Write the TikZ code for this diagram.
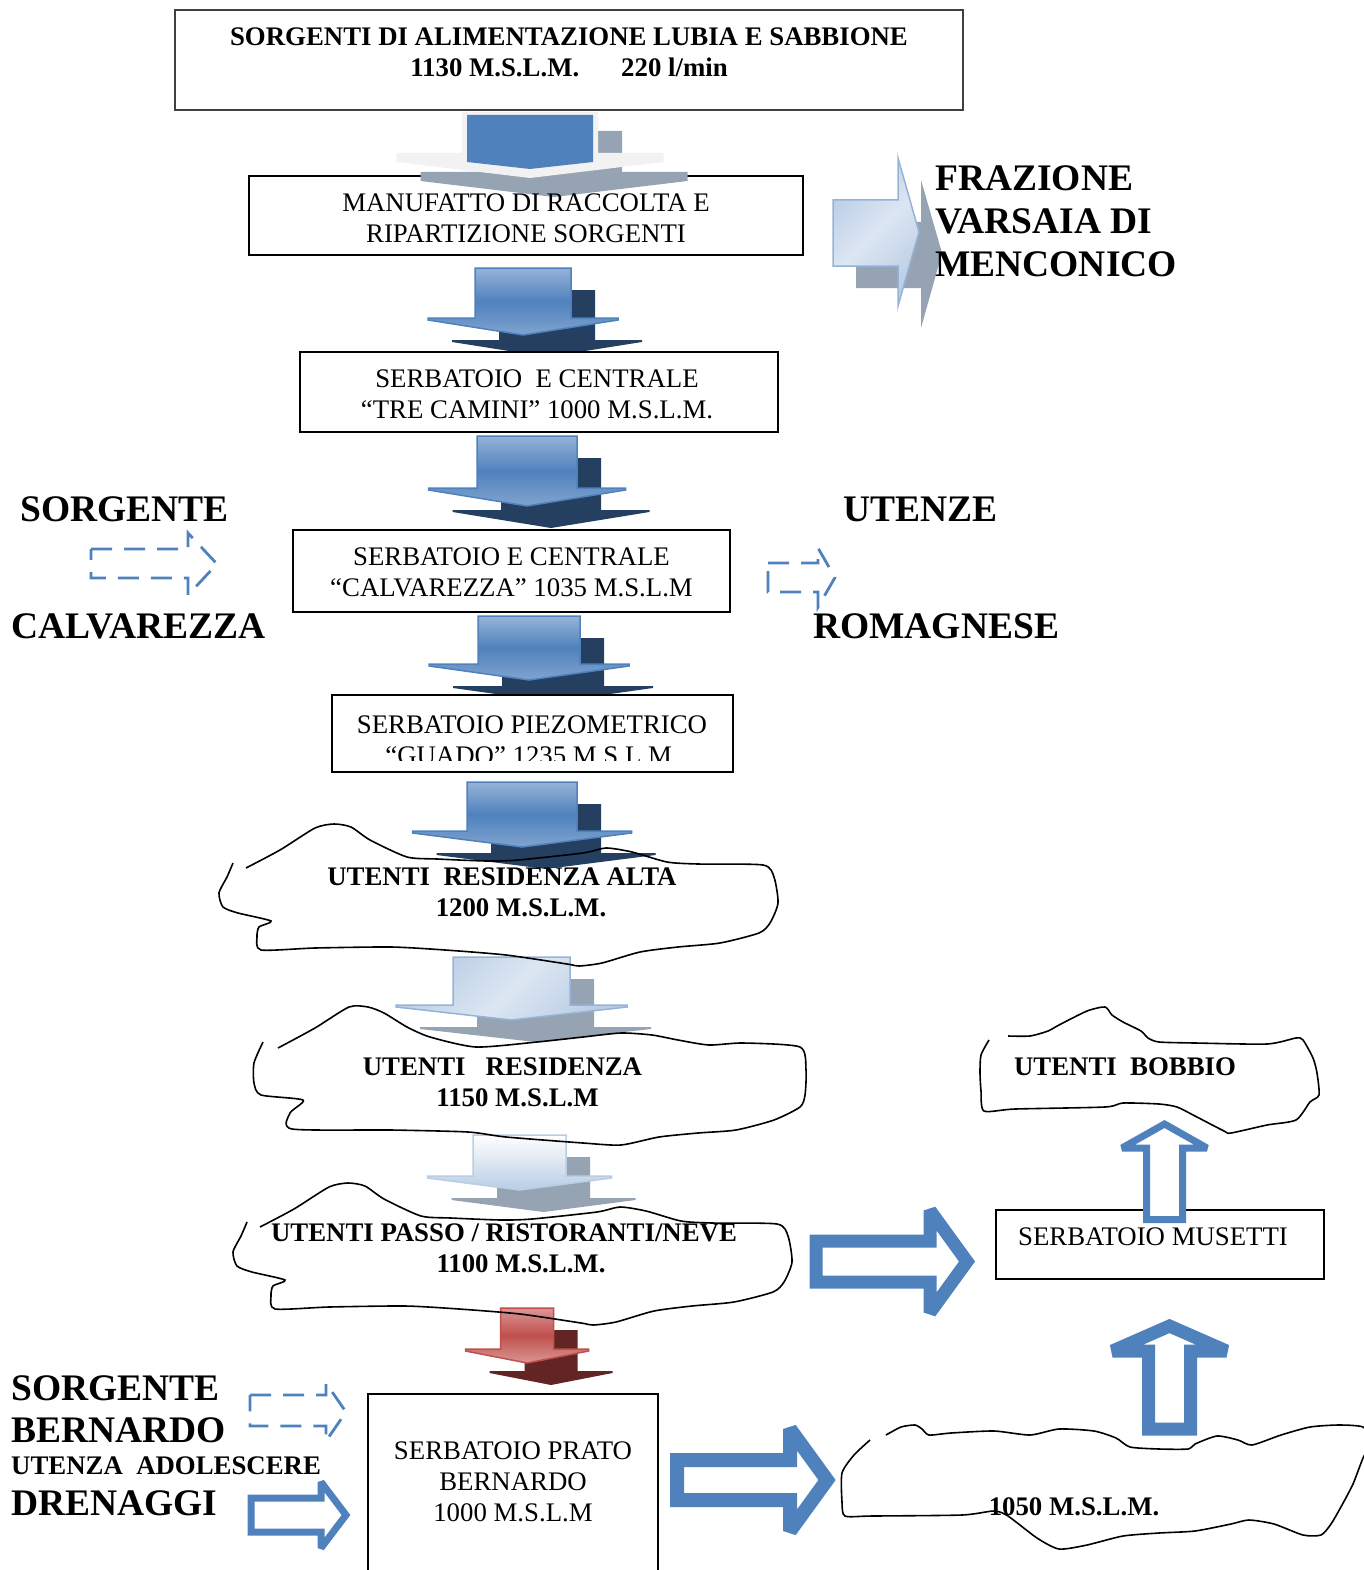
\documentclass[tikz,border=0pt]{standalone}
\usepackage{fontspec}
\setmainfont{Liberation Serif}
\usepackage{tikz}

\definecolor{azul}{HTML}{4F81BD}
\definecolor{azulclaro}{HTML}{95B3D7}
\definecolor{azulpalido}{HTML}{B9CDE5}
\definecolor{azulgelo}{HTML}{DCE6F2}
\definecolor{marinho}{HTML}{243F60}
\definecolor{cinza}{HTML}{95A3B3}
\definecolor{gelo}{HTML}{F2F2F2}
\definecolor{vermelho}{HTML}{C0504D}
\definecolor{rosa}{HTML}{DA9694}
\definecolor{vinho}{HTML}{632523}

\newcommand{\corpo}{\fontsize{26.8}{31}\selectfont}
\newcommand{\grande}{\fontsize{37.5}{43}\selectfont}

% seta em bloco: estilo, centro, topo, meia haste, meia ponta, haste, aba, ponta
\newcommand{\seta}[8]{%
  \path[#1] ({#2-#4},{#3}) -- ({#2+#4},{#3}) -- ({#2+#4},{#3+#6}) -- ({#2+#5},{#3+#6})
    -- ({#2+#5},{#3+#6+#7}) -- ({#2},{#3+#6+#7+#8}) -- ({#2-#5},{#3+#6+#7})
    -- ({#2-#5},{#3+#6}) -- ({#2-#4},{#3+#6}) -- cycle;}
% seta com sombra
\newcommand{\setasombra}[8]{%
  \seta{#2}{#3+24}{#4+22}{#5}{#6}{#7}{2}{#8}%
  \seta{#1}{#3}{#4}{#5}{#6}{#7}{2}{#8}}

\begin{document}
\begin{tikzpicture}[x=1pt, y=-1pt,
    caixa/.style={draw, fill=white, line width=1.2pt, inner sep=0pt},
    caixagrossa/.style={caixa, line width=2.2pt},
    texto/.style={font=\corpo, align=center, inner sep=0pt},
    negrito/.style={font=\corpo\bfseries, align=center, inner sep=0pt},
    rotulo/.style={font=\grande\bfseries, align=left, inner sep=0pt, anchor=west},
    nuvem/.style={draw=black, line width=1.6pt},
    vazada/.style={draw=azul, fill=white, line width=13pt, miter limit=3},
    tracejada/.style={draw=azul, line width=2.8pt, dash pattern=on 21pt off 12pt},
    frente/.style={top color=azulclaro, bottom color=azulclaro!70!azul, middle color=azul, draw=azul, line width=1.5pt},
    frenteclara/.style={left color=azulpalido, right color=azulpalido, middle color=azulgelo, shading angle=45, draw=azulclaro, line width=1.5pt},
    frentebranca/.style={top color=white, bottom color=azulpalido, draw=azulpalido, line width=1.5pt},
    frentevermelha/.style={top color=rosa, bottom color=rosa, middle color=vermelho, draw=vermelho, line width=1.5pt},
    sombraescura/.style={fill=marinho},
    sombracinza/.style={fill=cinza},
    sombravinho/.style={fill=vinho},
    realce/.style={fill=gelo},
    nuvemalta/.pic={\draw[nuvem] plot[smooth, tension=0.4] coordinates {(246,868) (280,850) (315,828) (334,824) (351,827) (370,840) (407,857) (437,859) (487,861) (518,860) (583,853) (606,848) (632,852) (667,862) (698,864) (763,865) (774,877) (778,903) (770,923) (759,933) (720,943) (678,947) (640,952) (602,963) (579,966) (567,964) (506,955) (445,950) (391,947) (315,948) (261,950) (257,937) (259,927) (271,921) (238,913) (223,907) (219,893) (227,877) (233,863)};}]
    \useasboundingbox (0,0) rectangle (1363,1570);

    % Caixas
    \node[caixa, draw=black!75, minimum width=788pt, minimum height=100pt] (fontes) at (569,60) {};
    \node[caixa, minimum width=554pt, minimum height=79pt] (manufatto) at (526,215.5) {};

    % Setas
    \seta{sombracinza}{554}{131}{68}{133.5}{41}{9}{16}
    \seta{realce}{530}{112}{68}{133.5}{41}{9}{16}
    \path[fill=azul] (467,115) -- (593,115) -- (593,162) -- (530,169) -- (467,162) -- cycle;
    \setasombra{frente}{sombraescura}{523}{268}{48}{95}{50}{15}
    \setasombra{frente}{sombraescura}{527}{436}{50}{98.5}{52}{16}
    \setasombra{frente}{sombraescura}{529}{616}{51}{100}{48}{14}

    \node[caixa, minimum width=478pt, minimum height=80pt] (trecamini) at (539,392) {};
    \node[caixagrossa, minimum width=437pt, minimum height=82pt] (calvarezza) at (511.5,571) {};
    \node[caixagrossa, minimum width=401pt, minimum height=77pt] (guado) at (532.5,733.5) {};

    \setasombra{frente}{sombraescura}{522}{782}{55}{109.5}{49}{14}
    \setasombra{frenteclara}{sombracinza}{511.5}{957}{58.5}{115.5}{48}{13}
    \setasombra{frentebranca}{sombracinza}{519.5}{1135}{46.5}{92}{41}{12}
    \setasombra{frentevermelha}{sombravinho}{527}{1308}{26.5}{61.5}{41}{12}

    \path[sombracinza] (856,222) -- (921,222) -- (921,180) -- (942,253) -- (921,328) -- (921,288) -- (856,288) -- cycle;
    \path[frenteclara] (833,200) -- (898,200) -- (898,158) -- (919,232) -- (898,306) -- (898,266) -- (833,266) -- cycle;

    % Nuvens
    \pic (alta) at (0,0) {nuvemalta};
    \pic (passo) at (14,359) {nuvemalta};
    \draw[nuvem] plot[smooth, tension=0.4] coordinates {(278,1048) (315,1028) (349,1007) (368,1007) (384,1013) (407,1027) (430,1037) (476,1047) (537,1042) (583,1037) (621,1033) (652,1035) (678,1040) (709,1045) (743,1043) (800,1047) (806,1070) (805,1095) (800,1107) (774,1120) (736,1130) (698,1133) (659,1137) (621,1145) (583,1143) (506,1137) (468,1132) (391,1130) (292,1129) (290,1113) (303,1100) (261,1095) (254,1083) (254,1063) (263,1042)};
    \draw[nuvem] plot[smooth, tension=0.4] coordinates {(1008,1036) (1030,1036) (1048,1031) (1059,1025) (1087,1011) (1105,1007) (1112,1015) (1123,1022) (1141,1031) (1148,1038) (1159,1042) (1195,1043) (1267,1044) (1296,1038) (1303,1040) (1313,1058) (1317,1073) (1319,1095) (1310,1102) (1296,1120) (1267,1125) (1231,1133) (1224,1131) (1195,1116) (1177,1107) (1159,1104) (1123,1103) (1105,1107) (1015,1109) (984,1111) (981,1091) (980,1073) (981,1055) (989,1040)};
    \draw[nuvem] plot[smooth, tension=0.4] coordinates {(886,1435) (901,1427) (915,1425) (922,1429) (929,1435) (951,1433) (994,1431) (1030,1435) (1059,1429) (1094,1431) (1116,1438) (1130,1447) (1159,1449) (1188,1449) (1195,1444) (1217,1436) (1238,1440) (1252,1445) (1281,1435) (1310,1427) (1339,1425) (1363,1427) (1372,1440) (1363,1458) (1353,1484) (1342,1505) (1331,1524) (1321,1535) (1303,1535) (1274,1524) (1249,1520) (1231,1524) (1195,1531) (1159,1533) (1123,1536) (1087,1545) (1059,1549) (1037,1538) (1008,1516) (994,1511) (962,1515) (872,1516) (845,1516) (842,1502) (842,1473) (854,1455) (870,1440)};

    \node[caixa, minimum width=328pt, minimum height=69pt] (musetti) at (1160,1244.5) {};
    \node[caixa, minimum width=290pt, minimum height=190pt] (prato) at (513,1489) {};

    \path[vazada] (816,1241) -- (930,1241) -- (930,1210.5) -- (967,1261.5) -- (930,1312.5) -- (930,1282) -- (816,1282) -- cycle;
    \path[vazada, line width=7pt] (1146.5,1219.5) -- (1146.5,1148) -- (1122,1148) -- (1164.5,1124) -- (1207,1148) -- (1182.5,1148) -- (1182.5,1219.5) -- cycle;
    \path[vazada] (1148.5,1429) -- (1148.5,1351) -- (1112.5,1351) -- (1169.5,1326) -- (1226.5,1351) -- (1190.5,1351) -- (1190.5,1429) -- cycle;
    \path[vazada, line width=14pt] (677,1460) -- (790,1460) -- (790,1429) -- (827,1480) -- (790,1531) -- (790,1500) -- (677,1500) -- cycle;
    \path[vazada, line width=7pt] (251,1498) -- (321,1498) -- (321,1482) -- (346,1515) -- (321,1548) -- (321,1532) -- (251,1532) -- cycle;

    \path[tracejada] (91,549) -- (188,549) -- (188,533) -- (217,564) -- (188,595) -- (188,578) -- (91,578) -- cycle;
    \path[tracejada] (768,563) -- (818,563) -- (818,548) -- (835,577.5) -- (818,607) -- (818,592) -- (768,592) -- cycle;
    \path[tracejada] (250,1395) -- (326,1395) -- (326,1383) -- (346,1412) -- (326,1441) -- (326,1426) -- (250,1426) -- cycle;

    % Textos
    \node[negrito] (fontestexto) at (569,52.5) {SORGENTI DI ALIMENTAZIONE LUBIA E SABBIONE\\1130 M.S.L.M.\hspace{42pt}220 l/min};
    \node[texto] (manufattotexto) at (526,218.5) {MANUFATTO DI RACCOLTA E\\RIPARTIZIONE SORGENTI};
    \node[texto] (trecaminitexto) at (537,394.5) {SERBATOIO\ \ E CENTRALE\\“TRE CAMINI” 1000 M.S.L.M.};
    \node[texto] (calvarezzatexto) at (511.5,572.5) {SERBATOIO E CENTRALE\\“CALVAREZZA” 1035 M.S.L.M};
    \begin{scope}
        \clip (guado.north west) rectangle ([yshift=13pt]guado.south east);
        \node[texto] (guadotexto) at (532,740) {SERBATOIO PIEZOMETRICO\\“GUADO” 1235 M.S.L.M.};
    \end{scope}
    \node[negrito] (altatexto) at (502,892.5) {UTENTI\ \ RESIDENZA ALTA\\\hspace*{38pt}1200 M.S.L.M.};
    \node[negrito] (residenzatexto) at (502.5,1082.5) {UTENTI\ \ \ RESIDENZA\\\hspace*{30pt}1150 M.S.L.M};
    \node[negrito] (passotexto) at (504,1248.5) {UTENTI PASSO / RISTORANTI/NEVE\\\hspace*{34pt}1100 M.S.L.M.};
    \node[negrito] (bobbiotexto) at (1125,1067) {UTENTI\ \ BOBBIO};
    \node[texto] (musettitexto) at (1153,1237) {SERBATOIO MUSETTI};
    \node[texto] (pratotexto) at (513,1481.5) {SERBATOIO PRATO\\BERNARDO\\1000 M.S.L.M};
    \node[negrito] (quotatexto) at (1074,1507) {1050 M.S.L.M.};

    \node[rotulo] (sorgente) at (20,509) {SORGENTE};
    \node[rotulo] (calvarezzarotulo) at (11,626) {CALVAREZZA};
    \node[rotulo] (utenze) at (843,509) {UTENZE};
    \node[rotulo] (romagnese) at (813,626) {ROMAGNESE};
    \node[rotulo] (frazione) at (935,221) {FRAZIONE\\VARSAIA DI\\MENCONICO};
    \node[rotulo] (sorgentebernardo) at (11,1388) {SORGENTE};
    \node[rotulo] (bernardo) at (11,1430) {BERNARDO};
    \node[rotulo, font=\corpo\bfseries] (adolescere) at (11,1466) {UTENZA\ \ ADOLESCERE};
    \node[rotulo] (drenaggi) at (11,1503) {DRENAGGI};
\end{tikzpicture}
\end{document}
